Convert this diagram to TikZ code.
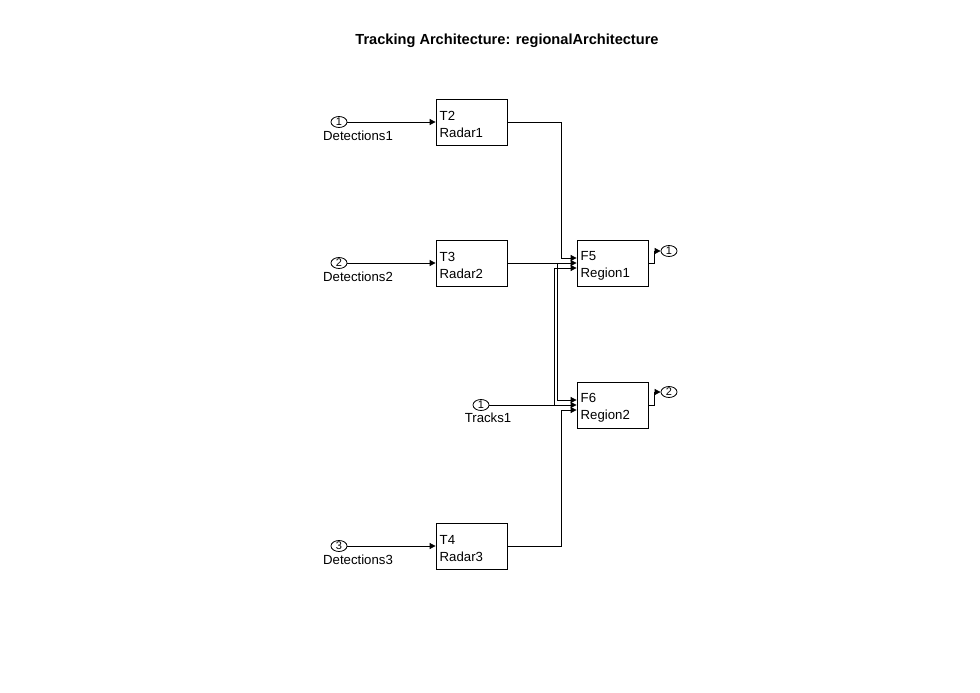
\documentclass[tikz,border=0pt]{standalone}
\usepackage{fontspec}
\setmainfont{Liberation Sans}
\usetikzlibrary{arrows.meta,shapes.geometric}
\begin{document}
\begin{tikzpicture}[x=1pt,y=-1pt,
  blk/.style={draw, line width=0.8pt, minimum width=71pt, minimum height=46pt, inner sep=0pt},
  btxt/.style={anchor=west, align=left, font=\fontsize{13.2}{17}\selectfont, inner sep=0pt},
  port/.style={draw, ellipse, line width=0.8pt, minimum width=16pt, minimum height=11pt, inner sep=0pt, font=\fontsize{11}{11}\selectfont},
  plbl/.style={font=\fontsize{13.2}{14}\selectfont, inner sep=0pt},
  wire/.style={line width=0.8pt},
  arr/.style={wire, -{Triangle[length=6pt,width=6pt]}}
]
\useasboundingbox (0,0) rectangle (980,693);
\node[font=\bfseries\fontsize{14.6}{17}\selectfont] (title) at (507,41) {Tracking Architecture: regionalArchitecture};

% blocks
\node[blk] (r1) at (471.5,122) {};
\node[blk] (r2) at (471.5,263) {};
\node[blk] (r3) at (471.5,546) {};
\node[blk] (f5) at (612.5,263) {};
\node[blk] (f6) at (612.5,405) {};
\node[btxt] (r1t) at (439.5,124.5) {T2\\Radar1};
\node[btxt] (r2t) at (439.5,265.5) {T3\\Radar2};
\node[btxt] (r3t) at (439.5,548.5) {T4\\Radar3};
\node[btxt] (f5t) at (580.5,265.5) {F5\\Region1};
\node[btxt] (f6t) at (580.5,407.5) {F6\\Region2};

% inports
\node[port] (d1) at (339,122) {1};
\node[port] (d2) at (339,263) {2};
\node[port] (d3) at (339,546) {3};
\node[port] (t1) at (481,405) {1};
\node[plbl] (d1l) at (358,136) {Detections1};
\node[plbl] (d2l) at (358,277) {Detections2};
\node[plbl] (d3l) at (358,560) {Detections3};
\node[plbl] (t1l) at (488,418) {Tracks1};

% outports
\node[port] (o1) at (669,251) {1};
\node[port] (o2) at (669,392) {2};

% input ports of F5 / F6
\coordinate (f5a) at ([yshift=5pt]f5.west);
\coordinate (f5b) at (f5.west);
\coordinate (f5c) at ([yshift=-5pt]f5.west);
\coordinate (f6a) at ([yshift=5pt]f6.west);
\coordinate (f6b) at (f6.west);
\coordinate (f6c) at ([yshift=-5pt]f6.west);

% inport wires
\draw[arr] (d1.east) -- (r1.west);
\draw[arr] (d2.east) -- (r2.west);
\draw[arr] (d3.east) -- (r3.west);

% radar outputs
\draw[arr] (r1.east) -- (561,122) |- (f5a);
\draw[arr] (r2.east) -- (f5b);
\draw[arr] (557.5,263) |- (f6a);
\draw[arr] (r3.east) -- (561,546) |- (f6c);
\draw[arr] (t1.east) -- (f6b);
\draw[arr] (554,405) |- (f5c);

% outputs
\draw[arr] (f5.east) -- (654,263) -- (654,251) -- (o1.west);
\draw[arr] (f6.east) -- (654,405) -- (654,392) -- (o2.west);
\end{tikzpicture}
\end{document}
